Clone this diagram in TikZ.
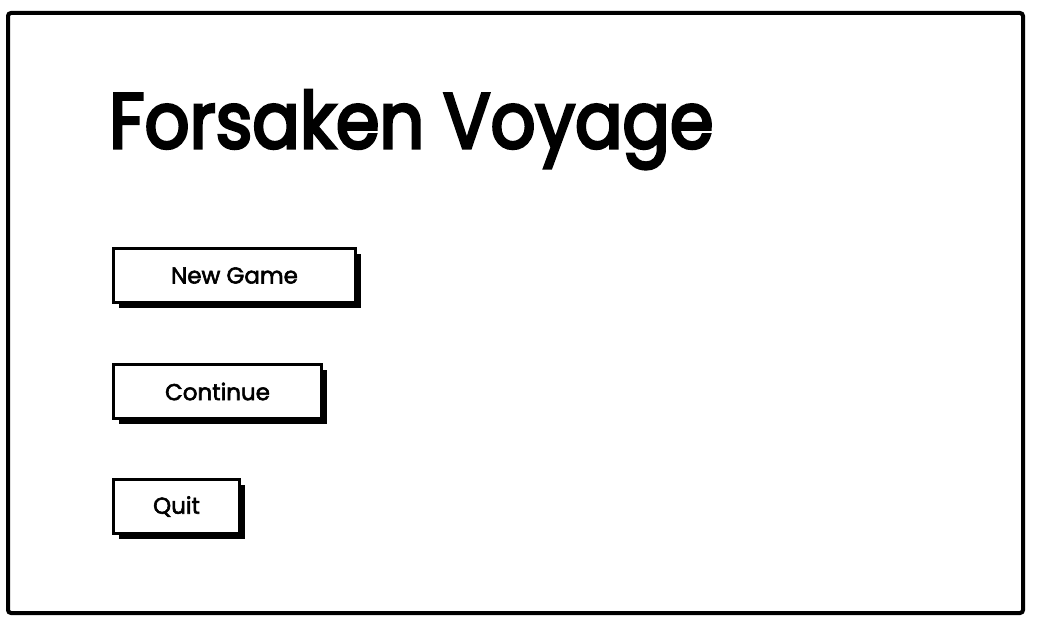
\documentclass[tikz,border=0pt]{standalone}
\usepackage{fontspec}
\setmainfont{Poppins}
\newfontfamily\titlefont{Poppins}[FakeBold=4]
\newfontfamily\buttonfont{Poppins}[FakeBold=2.5]
\usetikzlibrary{shadows, positioning}

\begin{document}
\begin{tikzpicture}[x=1pt,y=-1pt]
\useasboundingbox (0,0) rectangle (1038,626);
\draw[line width=4pt, rounded corners=3pt] (8,13) rectangle (1023,613);
\node[anchor=base west, inner sep=0pt, font=\fontsize{78}{80}\titlefont] (title) at (109,148) {\scalebox{0.9}[1]{Forsaken Voyage}};
\foreach \n/\t/\y/\w in {newgame/New Game/247/242, continue/Continue/363/208, quit/Quit/478/126}
{
    \node[draw, line width=3pt, fill=white, drop shadow={shadow xshift=5pt, shadow yshift=-5pt, fill=black, opacity=1}, minimum width=\w pt, minimum height=54pt, anchor=north west, font=\fontsize{23}{25}\buttonfont] (\n) at (112,\y) {\t};
}
\end{tikzpicture}
\end{document}
